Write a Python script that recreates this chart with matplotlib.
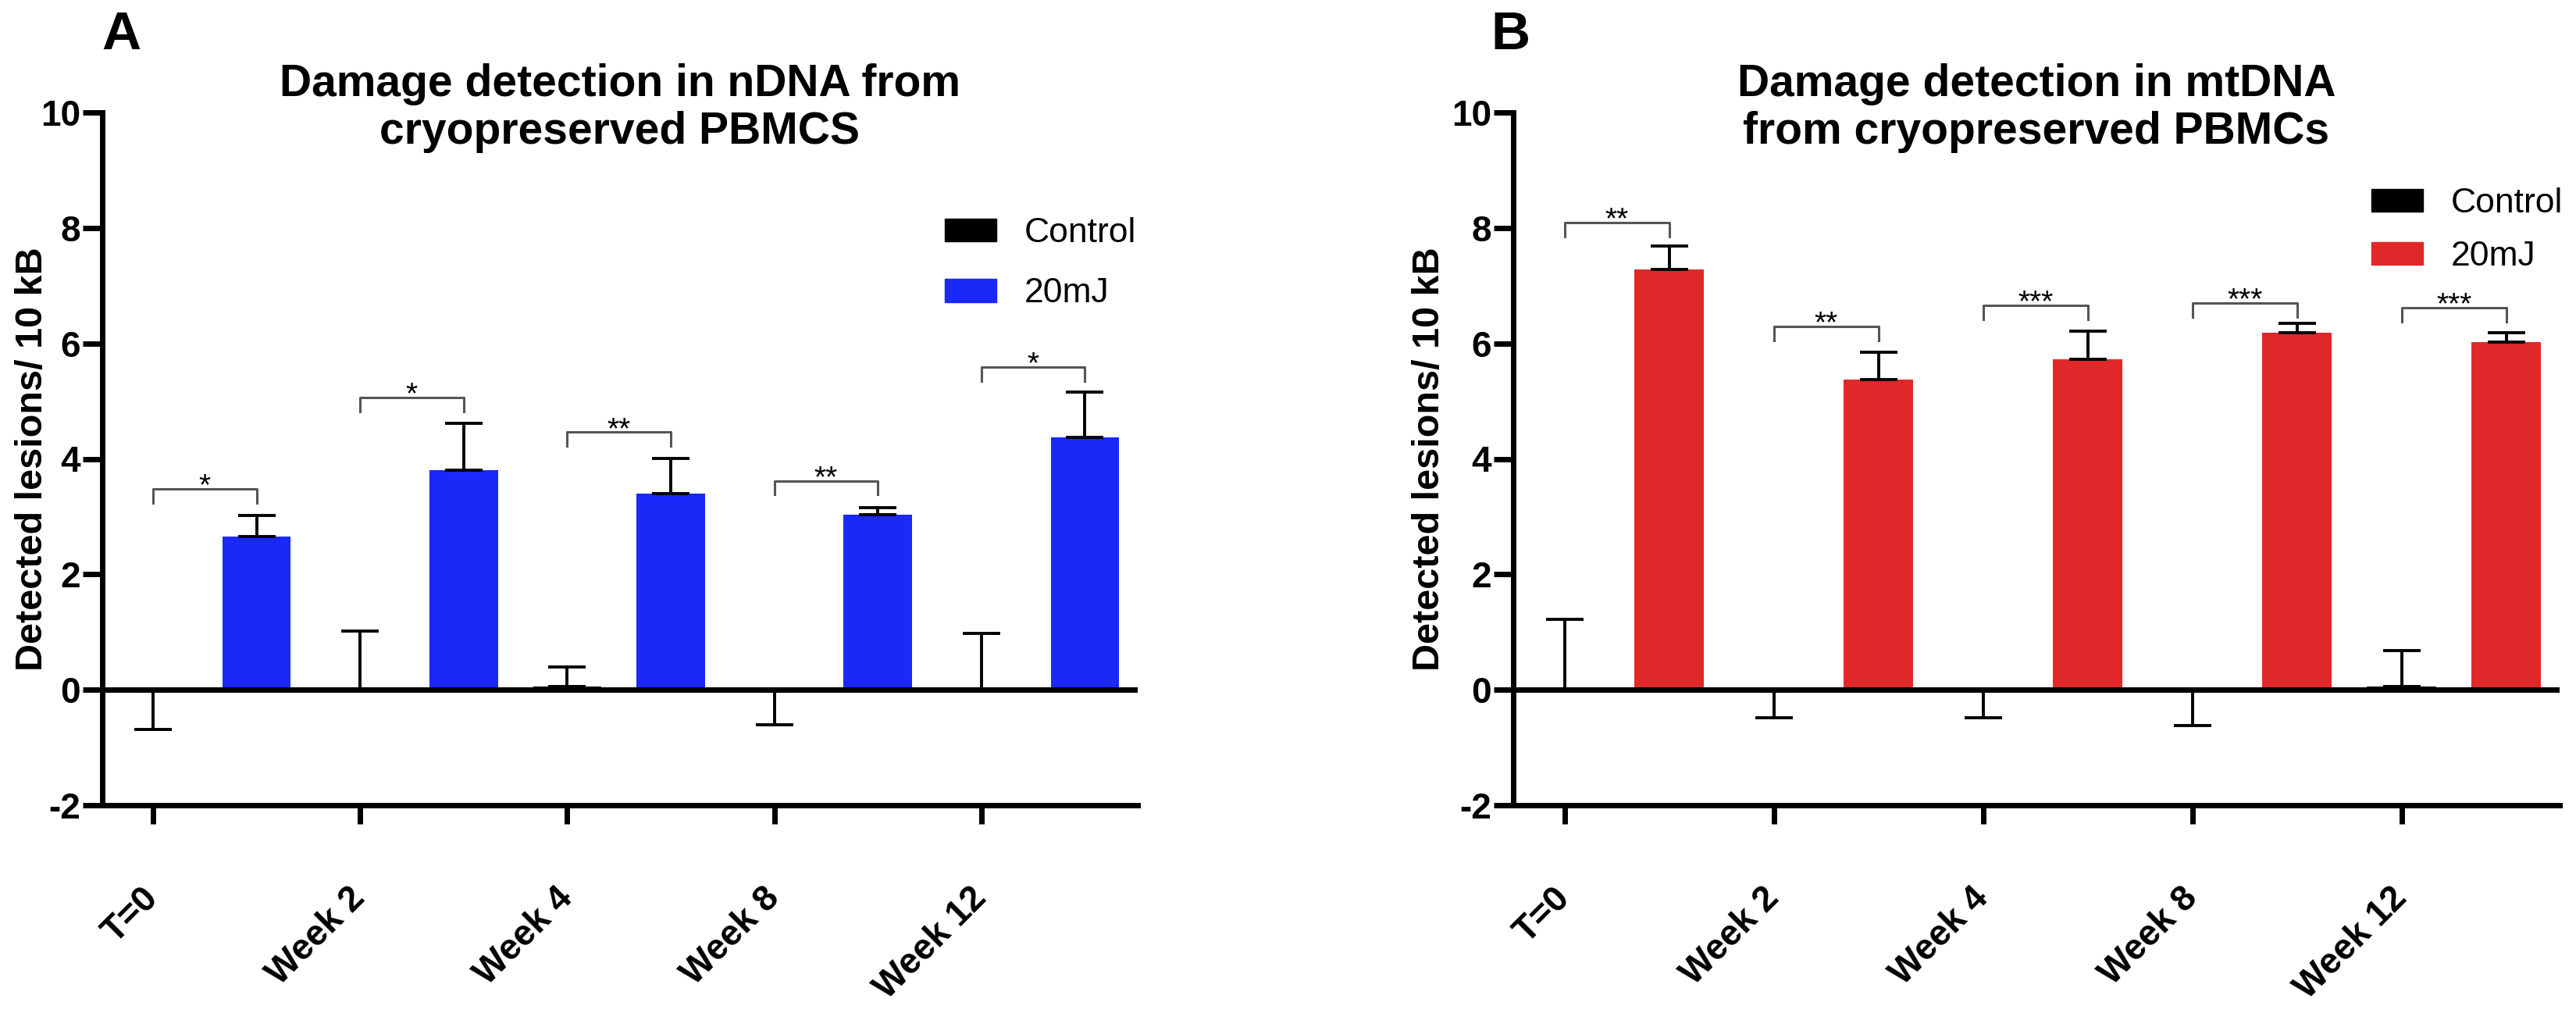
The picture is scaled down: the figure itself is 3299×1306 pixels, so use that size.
import numpy as np
import matplotlib
matplotlib.use("Agg")
import matplotlib.pyplot as plt
from matplotlib.patches import Patch

plt.rcParams['font.family'] = ['Liberation Sans', 'DejaVu Sans']
plt.rcParams['axes.unicode_minus'] = False

labels = ['T=0', 'Week 2', 'Week 4', 'Week 8', 'Week 12']

# A: nDNA
ctrl_a = [-0.03, 0.02, 0.05, -0.03, 0.02]
ctrl_a_sem = [0.66, 1.00, 0.34, 0.58, 0.96]
mj_a = [2.65, 3.80, 3.40, 3.03, 4.37]
mj_a_sem = [0.37, 0.82, 0.61, 0.12, 0.79]
sig_a = ['*', '*', '**', '**', '*']
sig_a_y = [3.48, 5.06, 4.46, 3.62, 5.59]

# B: mtDNA
ctrl_b = [0.02, -0.02, -0.02, -0.02, 0.05]
ctrl_b_sem = [1.20, 0.46, 0.46, 0.60, 0.63]
mj_b = [7.28, 5.37, 5.73, 6.18, 6.02]
mj_b_sem = [0.41, 0.48, 0.48, 0.17, 0.17]
sig_b = ['**', '**', '***', '***', '***']
sig_b_y = [8.09, 6.29, 6.66, 6.70, 6.62]

W, H = 3299, 1306
fig = plt.figure(figsize=(W / 100, H / 100), dpi=100)


def px_axes(x0, x1, ytop, ybot):
    return fig.add_axes([x0 / W, 1 - ybot / H, (x1 - x0) / W, (ybot - ytop) / H])


def one_sided(means, sems):
    # graphpad style: error bar only away from zero
    lo = [s if m < 0 else 0 for m, s in zip(means, sems)]
    hi = [0 if m < 0 else s for m, s in zip(means, sems)]
    return [lo, hi]


def panel(ax, ctrl, ctrl_sem, mj, mj_sem, color, sig, sig_y, title,
          ylab_x, leg_x, leg_y, leg_sp):
    x = np.arange(len(labels))
    ax.bar(x, ctrl, 0.33, color='black', zorder=2)
    ax.bar(x + 0.5, mj, 0.33, color=color, zorder=2)
    for xs, m, s in [(x, ctrl, ctrl_sem), (x + 0.5, mj, mj_sem)]:
        ax.errorbar(xs, m, yerr=one_sided(m, s), fmt='none', ecolor='black',
                    elinewidth=2.8, capsize=17, capthick=2.8, zorder=3)
    ax.axhline(0, color='black', lw=5, zorder=4)

    # significance brackets
    for i, (lab, y) in enumerate(zip(sig, sig_y)):
        ax.plot([i, i, i + 0.5, i + 0.5], [y - 0.24, y, y, y - 0.24],
                color='#555555', lw=2.2, zorder=3)
        ax.text(i + 0.25, y - 0.1, lab, ha='center', va='baseline', fontsize=28)

    ax.set_xlim(-0.245, 4.755)
    ax.set_ylim(-2, 10)
    ax.set_yticks(range(-2, 11, 2))
    ax.set_xticks(x)
    ax.set_xticklabels(labels, rotation=45, ha='right', va='center',
                       rotation_mode='anchor', fontweight='bold', fontsize=33)
    for t in ax.get_yticklabels():
        t.set_fontweight('bold')
    ax.tick_params(axis='y', length=18, width=5, labelsize=33, pad=2)
    ax.tick_params(axis='x', length=17, width=5, pad=64)
    for sp in ['top', 'right']:
        ax.spines[sp].set_visible(False)
    for sp in ['left', 'bottom']:
        ax.spines[sp].set_linewidth(5)
    ax.set_ylabel('Detected lesions/ 10 kB', fontsize=35, fontweight='bold')
    ax.yaxis.set_label_coords(ylab_x, 0.5)

    # two-line title, baseline of the lower line
    x0, x1 = ax.get_position().x0, ax.get_position().x1
    fig.text((x0 + x1) / 2, 1 - 184 / H, title, ha='center', va='baseline',
             fontsize=41, fontweight='bold', linespacing=1.17)

    handles = [Patch(color='black'), Patch(color=color)]
    ax.legend(handles, ['Control', '20mJ'], loc='upper left', frameon=False,
              bbox_to_anchor=(leg_x / W, 1 - leg_y / H), bbox_transform=fig.transFigure,
              fontsize=32, handlelength=1.48, handleheight=0.64, handletextpad=0.8,
              labelspacing=leg_sp, borderpad=0, borderaxespad=0)


ax_a = px_axes(131, 1457, 144, 1031)
ax_b = px_axes(1938, 3278, 144, 1031)

panel(ax_a, ctrl_a, ctrl_a_sem, mj_a, mj_a_sem, '#1a28f8', sig_a, sig_a_y,
      'Damage detection in nDNA from\ncryopreserved PBMCS', -0.0505, 1210, 278, 0.82)
panel(ax_b, ctrl_b, ctrl_b_sem, mj_b, mj_b_sem, '#e0282a', sig_b, sig_b_y,
      'Damage detection in mtDNA\nfrom cryopreserved PBMCs', -0.0634, 3037, 240, 0.61)

fig.text(130 / W, 1 - 63 / H, 'A', fontsize=50, fontweight='bold', va='baseline')
fig.text(1909 / W, 1 - 63 / H, 'B', fontsize=50, fontweight='bold', va='baseline')

fig.savefig('out.png', dpi=100)
